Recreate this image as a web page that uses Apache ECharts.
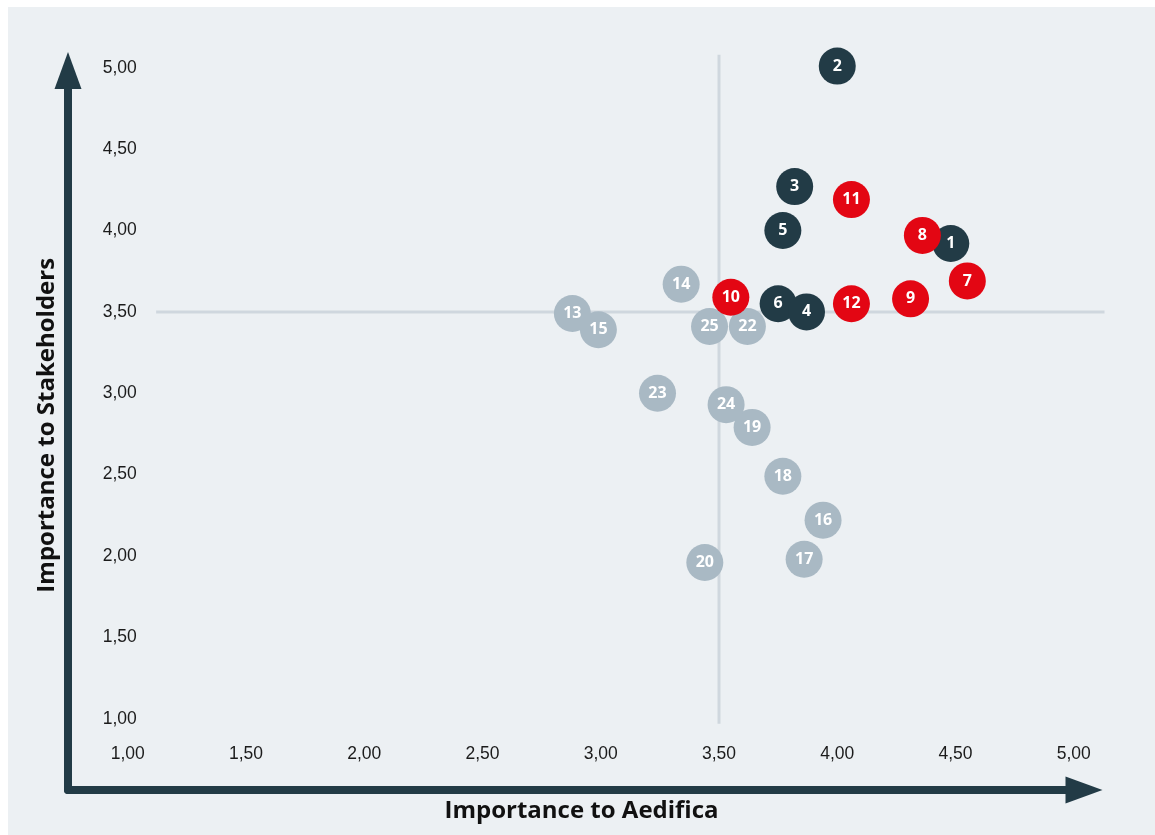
<!DOCTYPE html>
<html>
<head>
<meta charset="utf-8">
<title>Materiality matrix</title>
<script src="https://cdn.jsdelivr.net/npm/echarts@6/dist/echarts.min.js"></script>
<style>
  html, body { margin: 0; padding: 0; background: #ffffff; overflow: hidden; }
  #chart { position: absolute; left: 8px; top: 7px; width: 1147px; height: 828px; }
</style>
</head>
<body>
<div id="chart"></div>
<script>
// Topics: number, importance to Aedifica (x), importance to stakeholders (y)
const darkIds = [1, 2, 3, 5, 6, 4];
const darkX   = [4.48, 4.00, 3.82, 3.77, 3.75, 3.87];
const darkY   = [3.92, 5.01, 4.27, 4.00, 3.55, 3.50];

const redIds  = [7, 8, 9, 10, 11, 12];
const redX    = [4.55, 4.36, 4.31, 3.55, 4.06, 4.06];
const redY    = [3.69, 3.97, 3.58, 3.59, 4.19, 3.55];

const grayIds = [13, 14, 15, 16, 17, 18, 19, 20, 22, 23, 24, 25];
const grayX   = [2.88, 3.34, 2.99, 3.94, 3.86, 3.77, 3.64, 3.44, 3.62, 3.24, 3.53, 3.46];
const grayY   = [3.49, 3.67, 3.39, 2.22, 1.98, 2.49, 2.79, 1.96, 3.41, 3.00, 2.93, 3.41];

// Axis scale and threshold cross
const axisMin = 1, axisMax = 5, axisStep = 0.5;
const thresholdX = 3.5, thresholdY = 3.5;
const thresholdXSpan = [1.12, 5.13];   // extent of the horizontal threshold line (x values)
const thresholdYSpan = [0.97, 5.08];   // extent of the vertical threshold line (y values)

const xTitle = 'Importance to Aedifica';
const yTitle = 'Importance to Stakeholders';

const COLORS = { dark: '#223b46', red: '#e30613', gray: '#a9b9c4', axis: '#223b46', cross: '#cfd7de' };
const TITLE_FONT = '"Open Sans", "DejaVu Sans", sans-serif';
const TICK_FONT = '"Liberation Sans", Arial, sans-serif';

const fmt = v => v.toFixed(2).replace('.', ',');

function bubbles(name, ids, xs, ys, color) {
  return {
    type: 'scatter',
    name: name,
    xAxisIndex: 0,
    yAxisIndex: 0,
    clip: false,
    symbol: 'circle',
    symbolSize: 37,
    data: ids.map((id, i) => [xs[i], ys[i], id]),
    itemStyle: { color: color, opacity: 1 },
    label: {
      show: true,
      position: 'inside',
      formatter: p => String(p.value[2]),
      color: '#ffffff',
      fontFamily: TITLE_FONT,
      fontWeight: 'bold',
      fontSize: 16
    },
    emphasis: { disabled: true },
    z: 3
  };
}

const chart = echarts.init(document.getElementById('chart'), null, { renderer: 'canvas' });

chart.setOption({
  backgroundColor: '#ecf0f3',
  animation: false,
  grid: [
    // value plane
    { left: 119.75, right: 81.25, top: 60.75, bottom: 116.25 },
    // arrowed axes frame
    { left: 60, right: 71, top: 63.5, bottom: 45 }
  ],
  xAxis: [
    {
      gridIndex: 0, type: 'value', min: axisMin, max: axisMax, interval: axisStep,
      axisLine: { show: false }, axisTick: { show: false }, splitLine: { show: false },
      axisLabel: { formatter: fmt, margin: 26, fontSize: 17.5, color: '#1b1b1b', fontFamily: TICK_FONT }
    },
    {
      gridIndex: 1, type: 'value', min: 0, max: 1,
      axisLine: {
        show: true, onZero: false,
        symbol: ['none', 'triangle'], symbolSize: [27, 37],
        lineStyle: { color: COLORS.axis, width: 8, cap: 'round' }
      },
      axisTick: { show: false }, axisLabel: { show: false }, splitLine: { show: false },
      name: xTitle, nameLocation: 'middle', nameGap: 9,
      nameTextStyle: { fontFamily: TITLE_FONT, fontWeight: 'bold', fontSize: 24, color: '#111111', padding: [0, 0, 0, 11] }
    }
  ],
  yAxis: [
    {
      gridIndex: 0, type: 'value', min: axisMin, max: axisMax, interval: axisStep,
      axisLine: { show: false }, axisTick: { show: false }, splitLine: { show: false },
      axisLabel: { formatter: fmt, margin: -9, fontSize: 17.5, color: '#1b1b1b', fontFamily: TICK_FONT }
    },
    {
      gridIndex: 1, type: 'value', min: 0, max: 1,
      axisLine: {
        show: true, onZero: false,
        symbol: ['none', 'triangle'], symbolSize: [27, 37],
        lineStyle: { color: COLORS.axis, width: 8, cap: 'round' }
      },
      axisTick: { show: false }, axisLabel: { show: false }, splitLine: { show: false },
      name: yTitle, nameLocation: 'middle', nameGap: 9,
      nameTextStyle: { fontFamily: TITLE_FONT, fontWeight: 'bold', fontSize: 24, color: '#111111', padding: [0, 0, 0, 10] }
    }
  ],
  series: [
    bubbles('gray', grayIds, grayX, grayY, COLORS.gray),
    bubbles('dark', darkIds, darkX, darkY, COLORS.dark),
    bubbles('red', redIds, redX, redY, COLORS.red)
  ]
});

// Threshold cross, placed through the value plane's scales
function drawThresholds() {
  const h0 = chart.convertToPixel({ gridIndex: 0 }, [thresholdXSpan[0], thresholdY]);
  const h1 = chart.convertToPixel({ gridIndex: 0 }, [thresholdXSpan[1], thresholdY]);
  const v0 = chart.convertToPixel({ gridIndex: 0 }, [thresholdX, thresholdYSpan[1]]);
  const v1 = chart.convertToPixel({ gridIndex: 0 }, [thresholdX, thresholdYSpan[0]]);
  const style = { stroke: COLORS.cross, lineWidth: 3 };
  chart.setOption({
    graphic: [
      { type: 'line', id: 'thrH', z: 1, silent: true, shape: { x1: h0[0], y1: h0[1], x2: h1[0], y2: h1[1] }, style: style },
      { type: 'line', id: 'thrV', z: 1, silent: true, shape: { x1: v0[0], y1: v0[1], x2: v1[0], y2: v1[1] }, style: style }
    ]
  });
}
drawThresholds();
</script>
</body>
</html>
